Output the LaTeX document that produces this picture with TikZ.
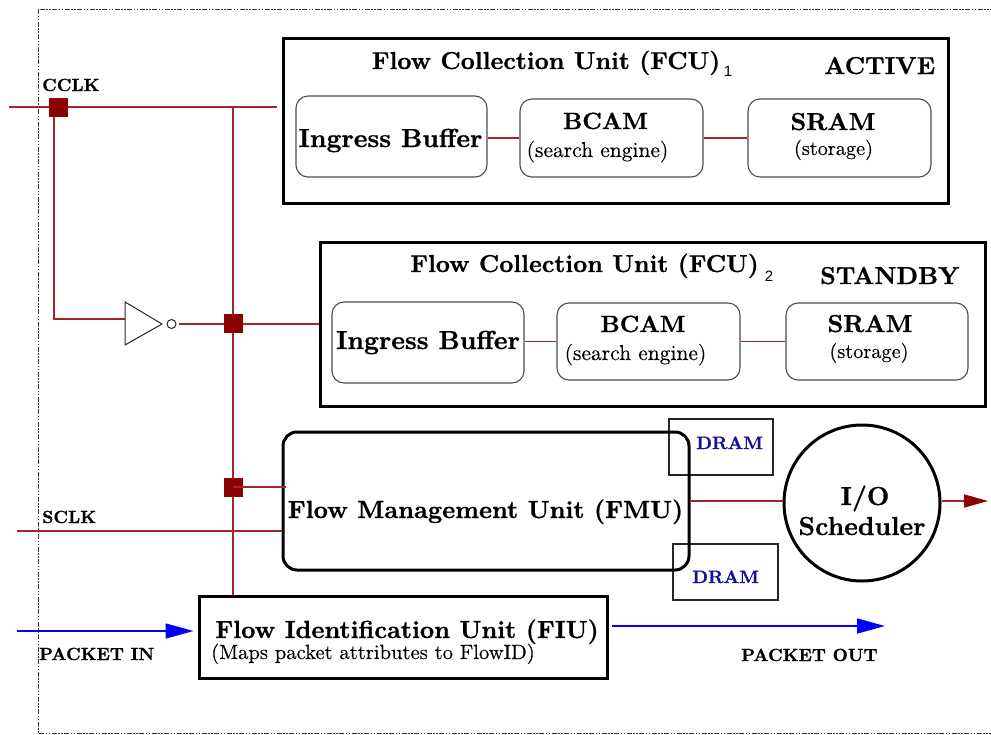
\documentclass[tikz,border=0pt]{standalone}
\usepackage{fontspec}
\setmainfont{lmroman10}[Extension=.otf, UprightFont=*-regular, BoldFont=*-bold, ItalicFont=*-italic, BoldItalicFont=*-bolditalic, BoldFeatures={FakeBold=0.8}, UprightFeatures={FakeBold=0.3}]
\newfontfamily\subfont{Liberation Sans}
\usetikzlibrary{arrows.meta}
\definecolor{wire}{RGB}{160,40,40}
\definecolor{junc}{RGB}{139,0,0}
\definecolor{dramblue}{RGB}{20,20,150}
\begin{document}
\begin{tikzpicture}[x=1pt,y=-1pt,
  bigbox/.style={draw=black, line width=3pt, inner sep=0pt},
  subbox/.style={draw=black!70, line width=1.1pt, rounded corners=12pt, inner sep=0pt},
  drambox/.style={draw=black!85, line width=1.3pt, inner sep=0pt},
  wireline/.style={draw=wire, line width=1.6pt},
  junction/.style={fill=junc, minimum size=19pt, inner sep=0pt},
  ttl/.style={font=\fontsize{24.5}{28}\selectfont\bfseries, anchor=base, inner sep=0pt},
  subt/.style={font=\fontsize{21.5}{24}\selectfont, anchor=base, inner sep=0pt},
  lbl/.style={font=\fontsize{17.6}{20}\selectfont\bfseries, anchor=base west, inner sep=0pt},
  dramtxt/.style={font=\fontsize{18}{20}\selectfont\bfseries, text=dramblue, anchor=base west, inner sep=0pt},
  idx/.style={font=\subfont\fontsize{15}{18}\selectfont, anchor=base, inner sep=0pt},
  pktarrow/.style={draw=blue, line width=1.5pt, -{Triangle[length=28pt,width=15pt]}}
]
\useasboundingbox (0,0) rectangle (991,734);

% outer dash-dot border
\draw[black!80, line width=1pt, dash pattern=on 5pt off 1.5pt on 1.5pt off 1.5pt on 1.5pt off 1.5pt]
  (38,9) rectangle (1005,733);

% FCU 1
\node[bigbox, minimum width=665pt, minimum height=165pt] (fcu1) at (615.5,120.5) {};
\node[ttl] (fcu1t) at (546,69) {Flow Collection Unit (FCU)};
\node[idx] (fcu1s) at (728,76) {1};
\node[ttl, anchor=base west] (act) at (824,74) {ACTIVE};
\node[subbox, minimum width=191pt, minimum height=81pt] (ib1) at (391.5,136.5) {};
\node[subbox, minimum width=183pt, minimum height=78pt] (bcam1) at (611.5,138) {};
\node[subbox, minimum width=183pt, minimum height=78pt] (sram1) at (839.5,138) {};
\node[ttl, font=\fontsize{26}{28}\selectfont\bfseries] (ib1t) at (390.5,147) {Ingress Buffer};
\node[ttl, font=\fontsize{23.5}{28}\selectfont\bfseries] (bcam1t) at (605.5,129) {BCAM};
\node[subt] (bcam1s) at (597.5,157) {(search engine)};
\node[ttl, font=\fontsize{24.5}{28}\selectfont\bfseries] (sram1t) at (833,130) {SRAM};
\node[subt, font=\fontsize{20.3}{24}\selectfont] (sram1s) at (833.5,155) {(storage)};
\draw[wireline] (ib1.east |- bcam1.west) -- (bcam1.west);
\draw[wireline] (bcam1.east) -- (sram1.west);

% FCU 2
\node[bigbox, minimum width=665pt, minimum height=164pt] (fcu2) at (652.5,324) {};
\node[ttl] (fcu2t) at (584.5,272) {Flow Collection Unit (FCU)};
\node[idx] (fcu2s) at (769,281) {2};
\node[ttl, anchor=base west] (stb) at (820,284) {STANDBY};
\node[subbox, minimum width=192pt, minimum height=81pt] (ib2) at (428,342.5) {};
\node[subbox, minimum width=183pt, minimum height=77pt] (bcam2) at (648.5,341.5) {};
\node[subbox, minimum width=182pt, minimum height=77pt] (sram2) at (877,341.5) {};
\node[ttl, font=\fontsize{26}{28}\selectfont\bfseries] (ib2t) at (428,349) {Ingress Buffer};
\node[ttl, font=\fontsize{23.5}{28}\selectfont\bfseries] (bcam2t) at (643,332) {BCAM};
\node[subt] (bcam2s) at (635.5,360) {(search engine)};
\node[ttl, font=\fontsize{24.5}{28}\selectfont\bfseries] (sram2t) at (870,332) {SRAM};
\node[subt, font=\fontsize{20.3}{24}\selectfont] (sram2s) at (869,358) {(storage)};
\draw[wireline] (ib2.east |- bcam2.west) -- (bcam2.west);
\draw[wireline] (bcam2.east) -- (sram2.west);

% FMU and DRAMs
\node[drambox, minimum width=104pt, minimum height=56pt] (dram1) at (721,447) {};
\node[drambox, minimum width=105pt, minimum height=56pt] (dram2) at (725.5,572) {};
\node[dramtxt] (dram1t) at (696,449) {DRAM};
\node[dramtxt] (dram2t) at (692,583) {DRAM};
\node[bigbox, rounded corners=14pt, minimum width=406pt, minimum height=138pt] (fmu) at (486,501) {};
\node[ttl, font=\fontsize{24.8}{28}\selectfont\bfseries] (fmut) at (485.5,518) {Flow Management Unit (FMU)};

% I/O scheduler
\node[circle, draw=black, line width=3pt, minimum size=156pt, inner sep=0pt] (sched) at (862,503) {};
\node[ttl, font=\fontsize{26}{30}\selectfont\bfseries] (schedt1) at (865,505) {I/O};
\node[ttl, font=\fontsize{26}{30}\selectfont\bfseries] (schedt2) at (862,535) {Scheduler};
\draw[wireline] (fmu.east) -- (fmu.east -| sched.west);
\coordinate (schedOut) at (988,501);
\draw[wireline, -{Triangle[length=24pt,width=13pt,color=junc]}] (sched.east |- schedOut) -- (schedOut);

% FIU
\node[bigbox, minimum width=408pt, minimum height=82pt] (fiu) at (403,637) {};
\node[ttl, font=\fontsize{24.8}{28}\selectfont\bfseries] (fiut) at (407,638) {Flow Identification Unit (FIU)};
\node[subt, font=\fontsize{20.6}{24}\selectfont] (fius) at (373,659) {(Maps packet attributes to FlowID)};

% packet arrows
\coordinate (pin) at (17,631);
\draw[pktarrow, shorten >=4pt] (pin) -- (pin -| fiu.west);
\node[lbl] (pinl) at (39,660) {PACKET IN};
\coordinate (poutS) at (612,626);
\coordinate (poutE) at (885,626);
\draw[pktarrow] (poutS) -- (poutE);
\node[lbl] (poutl) at (741,661) {PACKET OUT};

% clock network
\coordinate (cclkL) at (9,107);
\coordinate (tap) at (54,107);
\coordinate (tapdown) at (54,319);
\coordinate (invin) at (125,319);
\coordinate (busTop) at (233,107);
\coordinate (sclkL) at (17,531);
\draw[wireline, shorten >=5pt] (cclkL) -- (fcu1.west |- cclkL);
\draw[wireline] (tap) -- (tapdown) -- (invin);
\draw[black!85, line width=1pt, line join=miter] (125,302) -- (162,324) -- (125,345) -- cycle;
\node[circle, draw=black!85, line width=1pt, minimum size=9pt, inner sep=0pt] (bubble) at (171.5,324) {};
\draw[wireline, shorten <=2.5pt] (bubble.east) -- (bubble.east -| fcu2.west);
\draw[wireline] (busTop) -- (busTop |- fiu.north);
\node[junction] (sq1) at (58,107) {};
\node[junction] (sq2) at (233,323) {};
\node[junction] (sq3) at (233,487) {};
\draw[wireline, shorten >=-4pt] (sq3.center) -- (sq3.center -| fmu.west);
\draw[wireline] (sclkL) -- (sclkL -| fmu.west);
\node[lbl] (cclk) at (42,91) {CCLK};
\node[lbl] (sclk) at (42,523) {SCLK};
\end{tikzpicture}
\end{document}
